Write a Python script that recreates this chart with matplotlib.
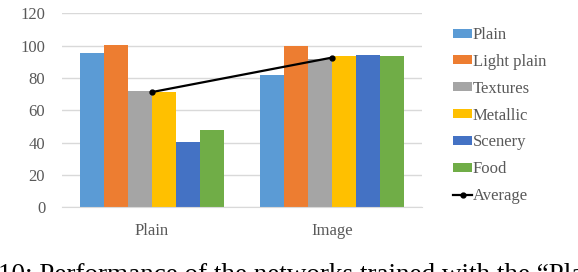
import numpy as np
import matplotlib
matplotlib.use("Agg")
import matplotlib.pyplot as plt

plt.rcParams['font.family'] = ['Liberation Serif', 'DejaVu Serif']

groups = ["Plain", "Image"]
series = ["Plain", "Light plain", "Textures", "Metallic", "Scenery", "Food"]
colors = ["#5B9BD5", "#ED7D31", "#A5A5A5", "#FFC000", "#4472C4", "#70AD47"]
plain_vals = [95.7, 100.2, 72.2, 71.4, 40.2, 47.9]
image_vals = [81.9, 100.0, 92.0, 93.7, 94.3, 93.7]

vals = np.array([plain_vals, image_vals])
average = vals.mean(axis=1)

fig = plt.figure(figsize=(5.78, 2.72), dpi=100)
ax = fig.add_axes([0.107, 0.238, 0.623, 0.713])

x = np.arange(len(groups))
w = 0.8 / len(series)
for i, (name, c) in enumerate(zip(series, colors)):
    ax.bar(x - 0.4 + w * (i + 0.5), vals[:, i], width=w, color=c, label=name, zorder=2)

ax.plot(x, average, color="black", lw=1.6, marker="o", ms=3.5, zorder=3, label="Average")

ax.set_xlim(-0.5, 1.5)
ax.set_ylim(0, 120)
ax.set_yticks(range(0, 121, 20))
ax.set_xticks(x)
ax.set_xticklabels(groups)
ax.grid(axis="y", color="#d9d9d9", lw=1, zorder=0)
for s in ["top", "right", "left"]:
    ax.spines[s].set_visible(False)
ax.spines["bottom"].set_color("#d9d9d9")
ax.tick_params(length=0, labelsize=12, colors="#595959")
ax.tick_params(axis="x", pad=11)
ax.tick_params(axis="y", pad=12)

handles, labels = ax.get_legend_handles_labels()
handles = handles[1:] + handles[:1]
labels = labels[1:] + labels[:1]
leg = fig.legend(handles, labels, loc="upper left", bbox_to_anchor=(0.773, 0.925),
                 frameon=False, fontsize=12, handlelength=1.1, handleheight=0.45,
                 handletextpad=0.05, labelspacing=0.65, borderaxespad=0)
for t in leg.get_texts():
    t.set_color("#595959")

fig.text(-0.003, -0.035, "10: Performance of the networks trained with the \u201cPlain\u201d",
         fontsize=19.5, color="black", ha="left", va="baseline")

fig.savefig("out.png", dpi=100)
